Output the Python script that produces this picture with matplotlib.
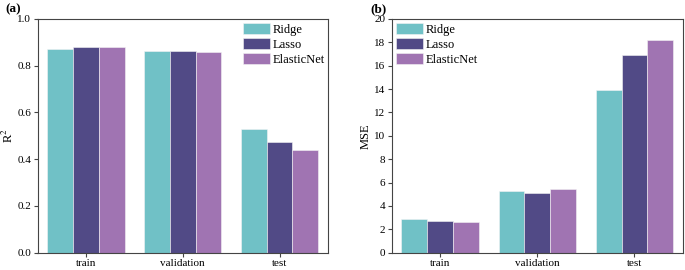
import numpy as np
import matplotlib
matplotlib.use("Agg")
import matplotlib.pyplot as plt

plt.rcParams['font.family'] = ['Liberation Serif', 'DejaVu Serif']
plt.rcParams['mathtext.fontset'] = 'stix'

# data
sets = ["train", "validation", "test"]
models = ["Ridge", "Lasso", "ElasticNet"]
r2_ridge = [0.872, 0.864, 0.528]
r2_lasso = [0.880, 0.864, 0.472]
r2_enet = [0.880, 0.859, 0.438]
mse_ridge = [2.86, 5.26, 13.9]
mse_lasso = [2.69, 5.14, 16.9]
mse_enet = [2.63, 5.45, 18.18]

colors = ["#70C1C6", "#514A86", "#A074B2"]

fig = plt.figure(figsize=(6.85, 2.7), dpi=100)
ax1 = fig.add_axes([37.5/685, 1-252.7/270, 290.5/685, 233.7/270])
ax2 = fig.add_axes([391.7/685, 1-252.7/270, 291.3/685, 233.7/270])

x = np.arange(len(sets))
w = 0.8 / 3

def draw(ax, series, ylim, yticks, ylabel):
    for i, (vals, c, name) in enumerate(zip(series, colors, models)):
        ax.bar(x + (i - 1) * w, vals, width=w, color=c, label=name,
               edgecolor="#f4f4f4", linewidth=0.4)
    ax.set_xlim(-0.5, 2.5)
    ax.set_ylim(*ylim)
    ax.set_yticks(yticks)
    ax.set_xticks(x)
    ax.set_xticklabels(sets)
    ax.tick_params(labelsize=8, length=3, width=0.8, pad=1.5, color="#444444")
    ax.set_ylabel(ylabel, fontsize=9)
    for s in ax.spines.values():
        s.set_linewidth(0.8)
        s.set_color("#444444")

def add_legend(ax, loc, anchor):
    ax.legend(loc=loc, bbox_to_anchor=anchor, frameon=False,
              fontsize=9, handlelength=2.15, handleheight=1.05,
              labelspacing=0.16, handletextpad=0.25, borderaxespad=0.0,
              borderpad=0.0)

draw(ax1, [r2_ridge, r2_lasso, r2_enet], (0, 1.0),
     np.arange(0, 1.01, 0.2), "R$^2$")
ax1.set_yticklabels([f"{v:.1f}" for v in np.arange(0, 1.01, 0.2)])
ax1.yaxis.set_label_coords(-0.075, 0.5)
add_legend(ax1, "upper right", (0.99, 0.985))

draw(ax2, [mse_ridge, mse_lasso, mse_enet], (0, 20),
     np.arange(0, 21, 2), "MSE")
ax2.yaxis.set_label_coords(-0.069, 0.5)
add_legend(ax2, "upper left", (0.015, 0.985))

fig.text(5/685, 1-9/270, "(a)", fontsize=9.5, fontweight="bold", va="center")
fig.text(370/685, 1-9/270, "(b)", fontsize=9.5, fontweight="bold", va="center")

fig.savefig("out.png", dpi=100)
